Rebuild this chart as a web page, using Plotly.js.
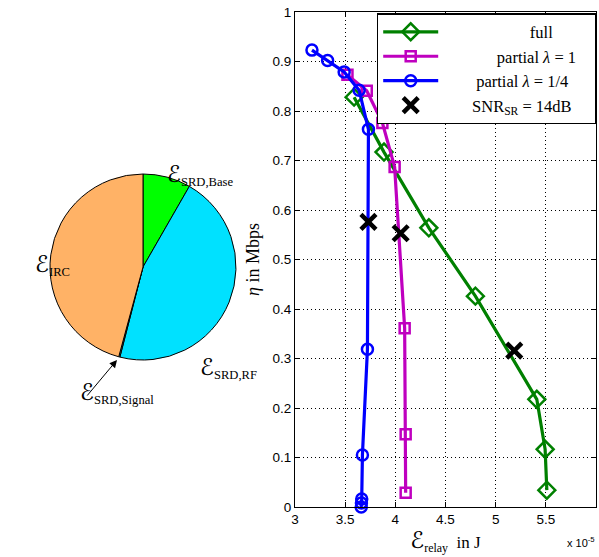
<!DOCTYPE html>
<html><head><meta charset="utf-8">
<script src="https://cdn.plot.ly/plotly-3.0.1.min.js"></script>
<style>body{margin:0;background:#fff}#chart{width:599px;height:557px}</style>
</head><body><div id="chart"></div>
<script>
// Pie data (shares of energy)
const pieLabels = ['SRD,Base', 'SRD,RF', 'SRD,Signal', 'IRC'];
const pieValues = [8.3, 45.7, 0.2, 45.8];
const pieColors = ['#00ff00', '#00e1ff', '#40c0c0', '#ffb266'];

// Line chart data (x in units of 1e-5 J, y in Mbps)
const fullX = [3.589, 3.887, 4.334, 4.798, 5.41, 5.493, 5.51];
const fullY = [0.828, 0.717, 0.564, 0.426, 0.2175, 0.1165, 0.034];
const p1X = [3.523, 3.715, 3.871, 3.993, 4.093, 4.103, 4.103];
const p1Y = [0.873, 0.841, 0.776, 0.687, 0.361, 0.147, 0.029];
const p4X = [3.169, 3.325, 3.49, 3.639, 3.732, 3.722, 3.672, 3.665, 3.662, 3.66];
const p4Y = [0.923, 0.902, 0.879, 0.842, 0.763, 0.3186, 0.105, 0.016, 0.008, 0.0];
const snrX = [3.732, 4.053, 5.185];
const snrY = [0.576, 0.553, 0.316];
const legendNames = ['full', 'partial <i>λ</i> = 1', 'partial <i>λ</i> = 1/4', 'SNR<sub>SR</sub> = 14dB'];

const serif = 'Liberation Serif, Times New Roman, serif';
const sans = 'Liberation Sans, Arial, sans-serif';
const E = '<span style="font-family:DejaVu Sans;font-size:23px">ℰ</span>';
const pad = n => '\u00a0'.repeat(n);

const traces = [
  {type:'pie', values: pieValues, labels: pieLabels, sort:false, direction:'clockwise', rotation:0,
   marker:{colors: pieColors, line:{color:'#000', width:1}}, textinfo:'none', hoverinfo:'none',
   showlegend:false, domain:{x:[50/599, 236/599], y:[(557-360)/557, (557-174)/557]}},
  {x: fullX, y: fullY, mode:'lines+markers', name: pad(21) + legendNames[0], cliponaxis:false,
   line:{color:'#008000', width:3.2}, marker:{symbol:'diamond-open', size:13, color:'#008000', line:{width:2.5}}},
  {x: p1X, y: p1Y, mode:'lines+markers', name: pad(13) + legendNames[1], cliponaxis:false,
   line:{color:'#bf00bf', width:3.2}, marker:{symbol:'square-open', size:10, color:'#bf00bf', line:{width:2.5}}},
  {x: p4X, y: p4Y, mode:'lines+markers', name: pad(8) + legendNames[2] + pad(5), cliponaxis:false,
   line:{color:'#0000ff', width:3.2}, marker:{symbol:'circle-open', size:11, color:'#0000ff', line:{width:2.5}}},
  {x: snrX, y: snrY, mode:'markers', name: pad(7) + legendNames[3], cliponaxis:false,
   marker:{symbol:'x-thin-open', size:15, color:'#000', line:{width:4.5, color:'#000'}}}
];

const grid = {showgrid:true, gridcolor:'#000', griddash:'1px,3px', gridwidth:1, zeroline:false,
  showline:true, mirror:'ticks', linecolor:'#000', linewidth:1, ticks:'inside', ticklen:5, tickcolor:'#000',
  tickfont:{family:sans, size:13.5, color:'#000'}};

const layout = {
  width:599, height:557, margin:{l:0, r:0, t:0, b:0}, paper_bgcolor:'#fff', plot_bgcolor:'#fff',
  showlegend:true,
  xaxis:Object.assign({domain:[295/599, 596/599], range:[3,6], tickvals:[3,3.5,4,4.5,5,5.5,6],
    ticktext:['3','3.5','4','4.5','5','5.5','6'],
    title:{text: E + '<sub>relay</sub>  in J', font:{family:serif, size:17, color:'#000'}, standoff:0}}, grid),
  yaxis:Object.assign({domain:[50/557, 545/557], range:[0,1], dtick:0.1, tickformat:'.1~f',
    title:{text:'<i>η</i> in Mbps', font:{family:serif, size:18, color:'#000'}, standoff:8}}, grid),
  legend:{x:0.995, xanchor:'right', y:0.976, yanchor:'top', bgcolor:'#fff', bordercolor:'#000', borderwidth:1.2,
    font:{family:serif, size:16.5, color:'#000'}, itemwidth:55, tracegroupgap:0},
  annotations:[
    {xref:'paper', yref:'paper', x:597/599, y:(557-533)/557, xanchor:'right', yanchor:'top', showarrow:false,
     text:'x 10<sup>-5</sup>', font:{family:sans, size:11, color:'#000'}},
    {xref:'paper', yref:'paper', x:165/599, y:(557-159)/557, showarrow:false,
     text: E + '<sub>SRD,Base</sub>', font:{family:serif, size:18, color:'#000'}},
    {xref:'paper', yref:'paper', x:33/599, y:(557-265)/557, showarrow:false,
     text: E + '<sub>IRC</sub>', font:{family:serif, size:18, color:'#000'}},
    {xref:'paper', yref:'paper', x:198/599, y:(557-368)/557, showarrow:false,
     text: E + '<sub>SRD,RF</sub>', font:{family:serif, size:18, color:'#000'}},
    {xref:'paper', yref:'paper', x:78/599, y:(557-409)/557, showarrow:false,
     text: E + '<sub>SRD,Signal</sub>', font:{family:serif, size:18, color:'#000'}},
    {xref:'paper', yref:'paper', x:117/599, y:(557-360)/557, ax:86/599, ay:(557-397)/557, axref:'paper', ayref:'paper',
     showarrow:true, arrowhead:2, arrowsize:1.5, arrowwidth:1, arrowcolor:'#000', text:''}
  ]
};

Plotly.newPlot('chart', traces, layout, {staticPlot:true});
</script></body></html>
